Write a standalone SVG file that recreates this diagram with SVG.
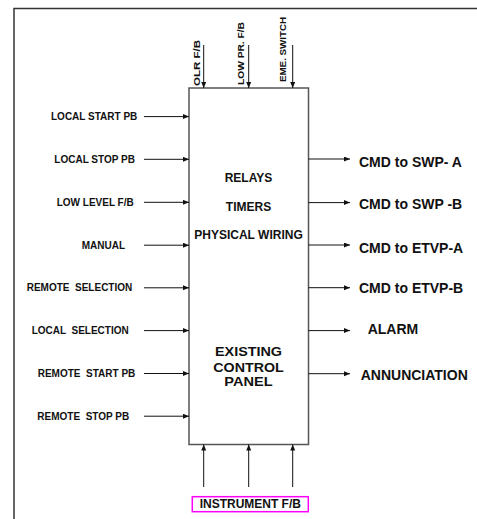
<svg xmlns="http://www.w3.org/2000/svg" width="477" height="519" viewBox="0 0 477 519">
<style>
text{font-family:"Liberation Sans",Arial,sans-serif;font-weight:bold;fill:#111;white-space:pre}
.in{font-size:10px;text-anchor:start}
.out{font-size:14px}
.mid{font-size:12px;text-anchor:middle}
.big{font-size:13px;text-anchor:middle}
.top{font-size:9px}
.ln{stroke:#111;stroke-width:1;fill:none;marker-end:url(#ah)}
</style>
<defs>
<marker id="ah" markerUnits="userSpaceOnUse" markerWidth="8" markerHeight="6" refX="6" refY="2.5" orient="auto">
<path d="M0,0 L6,2.5 L0,5 Z" fill="#111"/>
</marker>
</defs>
<rect width="477" height="519" fill="#fff"/>
<path d="M14,519 V8.5 H477" fill="none" stroke="#333" stroke-width="1.5"/>
<g id="panel">
<rect x="189" y="88" width="119.5" height="356.5" fill="#fff" stroke="#555" stroke-width="1.5"/>
<text class="mid" x="248.5" y="181.7">RELAYS</text>
<text class="mid" x="248.5" y="210.7">TIMERS</text>
<text class="mid" x="248.5" y="239.3">PHYSICAL WIRING</text>
<text class="big" x="248.5" y="355.7" textLength="67" lengthAdjust="spacingAndGlyphs">EXISTING</text>
<text class="big" x="248.5" y="371.5" textLength="70.5" lengthAdjust="spacingAndGlyphs">CONTROL</text>
<text class="big" x="248.5" y="386.3" textLength="48.3" lengthAdjust="spacingAndGlyphs">PANEL</text>
</g>
<g id="connectors">
<path class="ln" d="M144,116.6 H189"/>
<path class="ln" d="M144,159.3 H189"/>
<path class="ln" d="M144,202.3 H189"/>
<path class="ln" d="M144,245.2 H189"/>
<path class="ln" d="M144,287.8 H189"/>
<path class="ln" d="M144,330.6 H189"/>
<path class="ln" d="M144,373.5 H189"/>
<path class="ln" d="M144,416.2 H189"/>
<path class="ln" d="M308.5,159 H350"/>
<path class="ln" d="M308.5,202.6 H350"/>
<path class="ln" d="M308.5,245 H350"/>
<path class="ln" d="M308.5,287.7 H350"/>
<path class="ln" d="M308.5,330.6 H350"/>
<path class="ln" d="M308.5,373.7 H350"/>
<path class="ln" d="M203.7,45 V88"/>
<path class="ln" d="M248.7,45 V88"/>
<path class="ln" d="M292.7,45 V88"/>
<path class="ln" d="M203.7,487 V444.5"/>
<path class="ln" d="M248.7,487 V444.5"/>
<path class="ln" d="M292.7,487 V444.5"/>
</g>
<g id="inputs">
<text class="in" x="51" y="120.2">LOCAL START PB</text>
<text class="in" x="54.3" y="162.9">LOCAL STOP PB</text>
<text class="in" x="56.7" y="205.9">LOW LEVEL F/B</text>
<text class="in" x="81.7" y="248.8">MANUAL</text>
<text class="in" x="26.7" y="291.4">REMOTE  SELECTION</text>
<text class="in" x="31.7" y="334.2">LOCAL  SELECTION</text>
<text class="in" x="37.7" y="377.1">REMOTE  START PB</text>
<text class="in" x="37.3" y="419.8">REMOTE  STOP PB</text>
</g>
<g id="top-inputs">
<text class="top" transform="translate(200,86) rotate(-90)" textLength="46" lengthAdjust="spacingAndGlyphs">OLR F/B</text>
<text class="top" transform="translate(243.8,85) rotate(-90)" textLength="63" lengthAdjust="spacingAndGlyphs">LOW PR. F/B</text>
<text class="top" transform="translate(286.3,82) rotate(-90)" textLength="65" lengthAdjust="spacingAndGlyphs">EME. SWITCH</text>
</g>
<g id="outputs">
<text class="out" x="359" y="166.5">CMD to SWP- A</text>
<text class="out" x="359" y="209.3">CMD to SWP -B</text>
<text class="out" x="359" y="252.7">CMD to ETVP-A</text>
<text class="out" x="359" y="293.3">CMD to ETVP-B</text>
<text class="out" x="367.7" y="334">ALARM</text>
<text class="out" x="360.7" y="380">ANNUNCIATION</text>
</g>
<g id="instrument">
<rect x="192.3" y="496.7" width="116" height="15" fill="#fff" stroke="#f0f" stroke-width="1.5"/>
<text class="mid" x="250.3" y="508.4">INSTRUMENT F/B</text>
</g>
</svg>
